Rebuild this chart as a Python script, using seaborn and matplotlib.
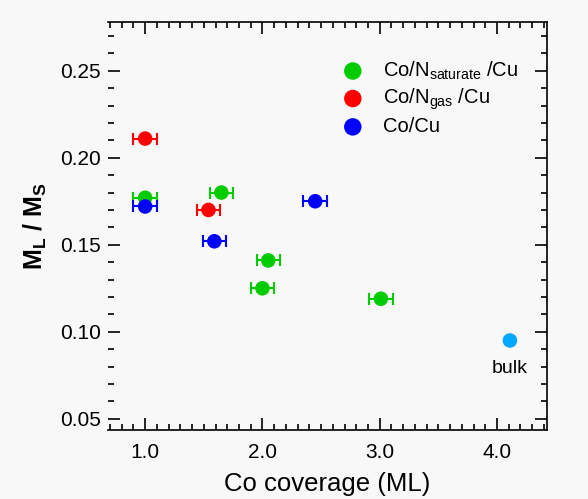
import numpy as np
import pandas as pd
import seaborn as sb
import matplotlib.pyplot as plt
from matplotlib.ticker import MultipleLocator

# data
sat_x = [1.0, 1.65, 2.05, 2.0, 3.01]
sat_y = [0.177, 0.180, 0.141, 0.125, 0.119]
gas_x = [1.0, 1.54]
gas_y = [0.211, 0.170]
cu_x = [1.0, 1.59, 2.45]
cu_y = [0.172, 0.152, 0.175]
bulk_x = [4.11]
bulk_y = [0.095]
xerr = 0.1

series = [
    (r'Co/N$_{\mathrm{saturate}}$ /Cu', sat_x, sat_y, '#00cc00'),
    (r'Co/N$_{\mathrm{gas}}$ /Cu', gas_x, gas_y, '#ff0000'),
    ('Co/Cu', cu_x, cu_y, '#0000ff'),
]

sb.set_theme(style='ticks')
plt.rcParams['font.family'] = ['Liberation Sans', 'DejaVu Sans']
plt.rcParams['mathtext.fontset'] = 'custom'
plt.rcParams['mathtext.rm'] = 'Liberation Sans'
plt.rcParams['mathtext.bf'] = 'Liberation Sans:bold'
for k in ['text.color', 'axes.labelcolor', 'xtick.color', 'ytick.color']:
    plt.rcParams[k] = 'black'

fig = plt.figure(figsize=(5.88, 4.99), dpi=100, facecolor='#f8f8f8')
ax = fig.add_axes([0.184, 0.138, 0.746, 0.818])
ax.set_facecolor('#f8f8f8')

for label, xs, ys, col in series:
    df = pd.DataFrame({'x': xs, 'y': ys})
    ax.errorbar(df['x'], df['y'], xerr=xerr, fmt='none', ecolor=col,
                elinewidth=1.5, capsize=4, capthick=1.5, zorder=2)
    sb.scatterplot(data=df, x='x', y='y', ax=ax, color=col, s=110,
                   edgecolor='none', label=label, zorder=3)

sb.scatterplot(x=bulk_x, y=bulk_y, ax=ax, color='#00a8ff', s=110,
               edgecolor='none', zorder=3)
ax.text(bulk_x[0], bulk_y[0] - 0.011, 'bulk', ha='center', va='top', fontsize=14)

ax.set_xlim(0.685, 4.425)
ax.set_ylim(0.0435, 0.278)
ax.set_xticks([1, 2, 3, 4])
ax.set_xticklabels(['1.0', '2.0', '3.0', '4.0'])
ax.set_yticks([0.05, 0.10, 0.15, 0.20, 0.25])
ax.set_yticklabels(['0.05', '0.10', '0.15', '0.20', '0.25'])
ax.xaxis.set_minor_locator(MultipleLocator(0.1))
ax.yaxis.set_minor_locator(MultipleLocator(0.01))
ax.tick_params(which='both', direction='in', top=True, right=True,
               labelsize=15, width=1.2, color='black', labelcolor='black')
ax.tick_params(which='major', length=8.5)
ax.tick_params(which='minor', length=4.5)
ax.tick_params(axis='x', which='major', pad=9)
ax.tick_params(axis='y', which='major', pad=5)
for s in ax.spines.values():
    s.set_linewidth(1.2)
    s.set_color('black')
ax.spines['left'].set_visible(False)

ax.set_xlabel('Co coverage (ML)', fontsize=18.5, labelpad=7.5)
ax.set_ylabel(r'M$_{\mathbf{L}}$ / M$_{\mathbf{S}}$', fontsize=18,
              fontweight='bold', labelpad=8)

leg = ax.legend(loc='upper left', bbox_to_anchor=(0.475, 0.948), frameon=False,
                fontsize=14.5, handletextpad=0.5, labelspacing=0.25,
                borderpad=0.3, markerscale=1.2)

fig.savefig('out.png', dpi=100, facecolor=fig.get_facecolor())
